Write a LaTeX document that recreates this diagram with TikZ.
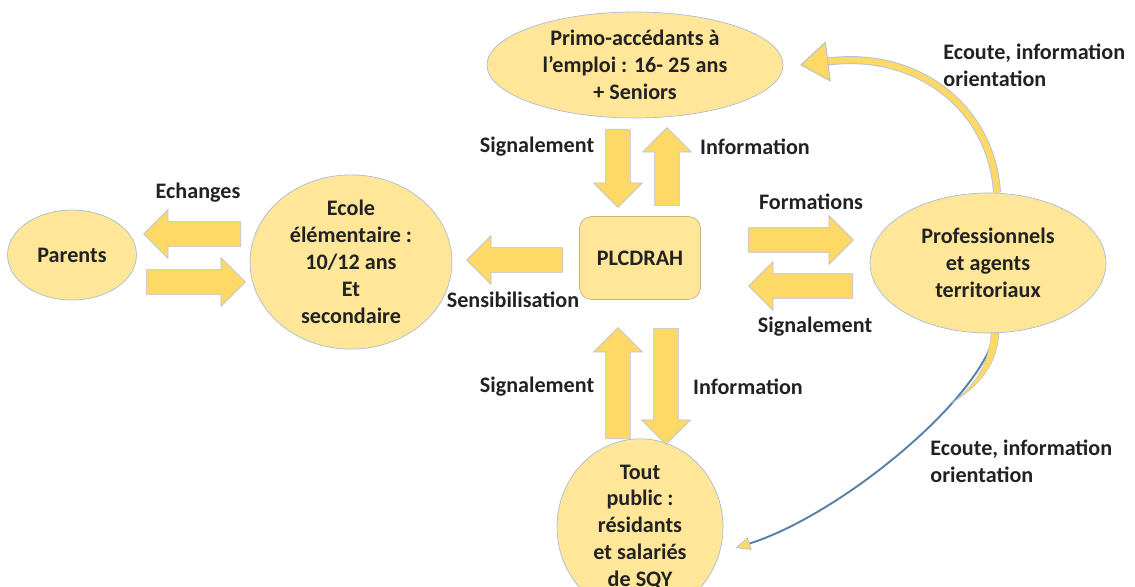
\documentclass[tikz,border=0pt]{standalone}
\usepackage{fontspec}
\setmainfont{Carlito}
\usetikzlibrary{shapes.geometric,shapes.arrows,arrows.meta}
\definecolor{bubblefill}{HTML}{FFE699}
\definecolor{bubbleline}{HTML}{A9BCD0}
\definecolor{arrowfill}{HTML}{FFD966}
\definecolor{arrowline}{HTML}{B4C3D3}
\definecolor{boxline}{HTML}{C8B27A}
\definecolor{txt}{HTML}{222222}
\definecolor{thinblue}{HTML}{5A80AA}
\newcommand{\lbl}{\fontsize{12.6}{15.3}\selectfont\bfseries}
\tikzset{
  bubble/.style={ellipse, draw=bubbleline, fill=bubblefill, text=txt, align=center, inner sep=0pt, font=\lbl},
  fatarrow/.style={single arrow, draw=arrowline, fill=arrowfill, minimum width=0.96cm, single arrow head extend=0.24cm, inner sep=0.24cm, anchor=tail},
  tag/.style={text=txt, font=\lbl, inner sep=0pt},
  bigtip/.style={-{Triangle[length=0.56cm, width=0.8cm, fill=arrowfill, color=#1, line width=0.5pt]}},
}
\begin{document}
\begin{tikzpicture}[x=0.02cm,y=-0.02cm]
  \useasboundingbox (0,0) rectangle (1135,587);
  \clip (0,0) rectangle (1135,587);
  \node[bubble, minimum width=5.92cm, minimum height=2.12cm] (primo) at (635,65) {Primo-accédants à\\l’emploi : 16- 25 ans\\+ Seniors};
  \node[bubble, minimum width=2.58cm, minimum height=1.8cm] (parents) at (72,255) {Parents};
  \node[bubble, minimum width=4.04cm, minimum height=3.2cm] (ecole) at (351,262) {Ecole\\élémentaire :\\10/12 ans\\Et\\secondaire};
  \node[draw=boxline, fill=bubblefill, rounded corners=0.24cm, minimum width=2.42cm, minimum height=1.66cm, text=txt, font=\lbl] (plc) at (640,258) {PLCDRAH};
  \node[bubble, minimum width=4.72cm, minimum height=2.8cm] (prof) at (988,263) {Professionnels\\et agents\\territoriaux};
  \node[bubble, minimum width=3.32cm, minimum height=2.84cm] (public) at (640,527) {Tout\\public :\\résidants\\et salariés\\de SQY};

  \node[fatarrow, minimum height=1.56cm, shape border rotate=270] (sigdown) at (618,129) {};
  \node[fatarrow, minimum height=1.56cm, shape border rotate=90] (infoup) at (667,206) {};
  \node[fatarrow, minimum height=2.1cm] (formright) at (748,240) {};
  \node[fatarrow, minimum height=2.08cm, shape border rotate=180] (sigleft) at (853,286) {};
  \node[fatarrow, minimum height=1.92cm, shape border rotate=180] (sensleft) at (563,260) {};
  \node[fatarrow, minimum height=1.94cm, shape border rotate=180] (echleft) at (241,234) {};
  \node[fatarrow, minimum height=1.98cm] (echright) at (146,282) {};
  \node[fatarrow, minimum height=2.22cm, shape border rotate=90] (sigup) at (618,439) {};
  \node[fatarrow, minimum height=2.32cm, shape border rotate=270] (infodown) at (666,328) {};

  \node[tag] (lsig1) at (537,147) {Signalement};
  \node[tag] (linfo1) at (755,147) {Information};
  \node[tag] (lech) at (198,193) {Echanges};
  \node[tag] (lform) at (811,202) {Formations};
  \node[tag] (lsens) at (513,300) {Sensibilisation};
  \node[tag] (lsig2) at (815,327) {Signalement};
  \node[tag] (lsig3) at (537,387) {Signalement};
  \node[tag] (linfo2) at (748,387) {Information};
  \node[tag, align=left, anchor=west] (lecout1) at (943,65) {Ecoute, information\\orientation};
  \node[tag, align=left, anchor=west] (lecout2) at (930,461) {Ecoute, information\\orientation};

  \draw[arrowline, line width=0.16cm, bigtip=arrowline] ([xshift=0.18cm]prof.north) .. controls (992,110) and (920,50) .. ([xshift=0.34cm]primo.east);
  \draw[arrowfill, line width=0.12cm, bigtip=arrowline] ([xshift=0.18cm]prof.north) .. controls (992,110) and (920,50) .. ([xshift=0.34cm]primo.east);

  \draw[thinblue, line width=1.1pt, -{Triangle[length=0.3cm, width=0.26cm, fill=arrowfill, color=arrowline, line width=0.4pt]}] ([xshift=0.14cm]prof.south) .. controls (980,400) and (840,515) .. ([xshift=0.24cm,yshift=-0.42cm]public.east);
  \filldraw[fill=arrowfill, draw=arrowline, line width=0.3pt] (991,333) .. controls (989,365) and (975,385) .. (952,403) .. controls (980,385) and (997,365) .. (999,333) -- cycle;
\end{tikzpicture}
\end{document}
